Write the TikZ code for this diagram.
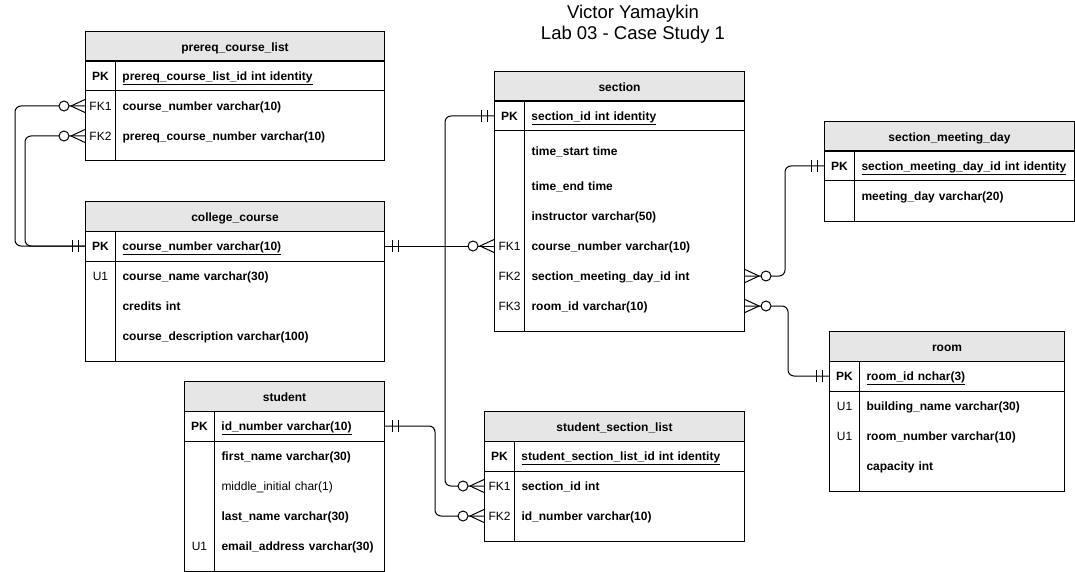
\documentclass[tikz,border=0pt]{standalone}
\usepackage{fontspec}
\setmainfont{Liberation Sans}
\usetikzlibrary{decorations.markings}

\definecolor{hdrgray}{HTML}{E6E6E6}
\newcommand{\fld}[2]{\makebox[30pt][c]{#1}\hspace{7pt}#2}

\tikzset{
  ehead/.style={draw, fill=hdrgray, anchor=north west, inner sep=0pt,
    minimum height=30pt, minimum width=#1pt, text height=9.5pt, text depth=0.3pt,
    font=\fontsize{12}{14}\selectfont\bfseries},
  erow/.style={anchor=west, inner sep=0pt, minimum height=30pt,
    text width=#1pt, text height=9.5pt, text depth=0.3pt, align=left,
    font=\fontsize{12}{14}\selectfont\bfseries},
  doctitle/.style={align=center, font=\fontsize{18.5}{20.5}\selectfont},
  conn/.style={rounded corners=6pt},
  one start/.style={postaction={decorate, decoration={markings,
    mark=at position 0 with {\draw[sharp corners] (7pt,-6pt) -- (7pt,6pt) (13pt,-6pt) -- (13pt,6pt);}}}},
  one end/.style={postaction={decorate, decoration={markings,
    mark=at position 1 with {\draw[sharp corners] (-7pt,-6pt) -- (-7pt,6pt) (-13pt,-6pt) -- (-13pt,6pt);}}}},
  many start/.style={postaction={decorate, decoration={markings,
    mark=at position 0 with {\draw[sharp corners] (0pt,-6.5pt) -- (14pt,0pt) -- (0pt,6.5pt);
      \draw[fill=white] (21pt,0pt) circle[radius=5pt];}}}},
  many end/.style={postaction={decorate, decoration={markings,
    mark=at position 1 with {\draw[sharp corners] (0pt,-6.5pt) -- (-14pt,0pt) -- (0pt,6.5pt);
      \draw[fill=white] (-21pt,0pt) circle[radius=5pt];}}}}
}

\begin{document}
\begin{tikzpicture}[x=1pt, y=-1pt, line width=1pt]
  \useasboundingbox (0,0) rectangle (1075,572);

  % Title
  \node[doctitle] (ttl) at (633,24) {Victor Yamaykin\\Lab 03 - Case Study 1};

  % prereq_course_list
  \node[ehead=299] (pcl) at (85,31) {prereq\_course\_list};
  \draw (85,61) rectangle (384,161) (85,91) -- (384,91) (115,61) -- (115,161);
  \node[erow=299] (pcl-pk) at (85,76) {\fld{PK}{\underline{prereq\_course\_list\_id int identity}}};
  \node[erow=299] (pcl-fk1) at (85,106) {\fld{\mdseries FK1}{course\_number varchar(10)}};
  \node[erow=299] (pcl-fk2) at (85,136) {\fld{\mdseries FK2}{prereq\_course\_number varchar(10)}};

  % college_course
  \node[ehead=299] (cc) at (85,201) {college\_course};
  \draw (85,231) rectangle (384,361) (85,261) -- (384,261) (115,231) -- (115,361);
  \node[erow=299] (cc-pk) at (85,246) {\fld{PK}{\underline{course\_number varchar(10)}}};
  \node[erow=299] (cc-u1) at (85,276) {\fld{\mdseries U1}{course\_name varchar(30)}};
  \node[erow=299] (cc-r2) at (85,306) {\fld{}{credits int}};
  \node[erow=299] (cc-r3) at (85,336) {\fld{}{course\_description varchar(100)}};

  % student
  \node[ehead=200] (stu) at (184,381) {student};
  \draw (184,411) rectangle (384,571) (184,441) -- (384,441) (214,411) -- (214,571);
  \node[erow=200] (stu-pk) at (184,426) {\fld{PK}{\underline{id\_number varchar(10)}}};
  \node[erow=200] (stu-r1) at (184,456) {\fld{}{first\_name varchar(30)}};
  \node[erow=200] (stu-r2) at (184,486) {\fld{}{\mdseries middle\_initial char(1)}};
  \node[erow=200] (stu-r3) at (184,516) {\fld{}{last\_name varchar(30)}};
  \node[erow=200] (stu-u1) at (184,546) {\fld{\mdseries U1}{email\_address varchar(30)}};

  % section
  \node[ehead=250] (sec) at (494,71) {section};
  \draw (494,101) rectangle (744,331) (494,131) -- (744,131) (524,101) -- (524,331);
  \node[erow=250] (sec-pk) at (494,116) {\fld{PK}{\underline{section\_id int identity}}};
  \node[erow=250] (sec-r1) at (494,151) {\fld{}{time\_start time}};
  \node[erow=250] (sec-r2) at (494,186) {\fld{}{time\_end time}};
  \node[erow=250] (sec-r3) at (494,216) {\fld{}{instructor varchar(50)}};
  \node[erow=250] (sec-fk1) at (494,246) {\fld{\mdseries FK1}{course\_number varchar(10)}};
  \node[erow=250] (sec-fk2) at (494,276) {\fld{\mdseries FK2}{section\_meeting\_day\_id int}};
  \node[erow=250] (sec-fk3) at (494,306) {\fld{\mdseries FK3}{room\_id varchar(10)}};

  % section_meeting_day
  \node[ehead=250] (smd) at (824,121) {section\_meeting\_day};
  \draw (824,151) rectangle (1074,221) (824,181) -- (1074,181) (854,151) -- (854,221);
  \node[erow=250] (smd-pk) at (824,166) {\fld{PK}{\underline{section\_meeting\_day\_id int identity}}};
  \node[erow=250] (smd-r1) at (824,196) {\fld{}{meeting\_day varchar(20)}};

  % room
  \node[ehead=235] (room) at (829,331) {room};
  \draw (829,361) rectangle (1064,491) (829,391) -- (1064,391) (859,361) -- (859,491);
  \node[erow=235] (room-pk) at (829,376) {\fld{PK}{\underline{room\_id nchar(3)}}};
  \node[erow=235] (room-u1) at (829,406) {\fld{\mdseries U1}{building\_name varchar(30)}};
  \node[erow=235] (room-u2) at (829,436) {\fld{\mdseries U1}{room\_number varchar(10)}};
  \node[erow=235] (room-r3) at (829,466) {\fld{}{capacity int}};

  % student_section_list
  \node[ehead=260] (ssl) at (484,411) {student\_section\_list};
  \draw (484,441) rectangle (744,541) (484,471) -- (744,471) (514,441) -- (514,541);
  \node[erow=260] (ssl-pk) at (484,456) {\fld{PK}{\underline{student\_section\_list\_id int identity}}};
  \node[erow=260] (ssl-fk1) at (484,486) {\fld{\mdseries FK1}{section\_id int}};
  \node[erow=260] (ssl-fk2) at (484,516) {\fld{\mdseries FK2}{id\_number varchar(10)}};

  % Relationships
  \draw[conn, many start, one end] (pcl-fk1.west) -- ++(-70,0) |- (cc-pk.west);
  \draw[conn, many start, one end] (pcl-fk2.west) -- ++(-60,0) |- (cc-pk.west);
  \draw[one start, many end] (cc-pk.east) -- (sec-fk1.west);
  \draw[conn, one start, many end] (sec-pk.west) -- ++(-49,0) |- (ssl-fk1.west);
  \draw[conn, one start, many end] (stu-pk.east) -- ++(50,0) |- (ssl-fk2.west);
  \draw[conn, many start, one end] (sec-fk2.east) -- ++(40,0) |- (smd-pk.west);
  \draw[conn, many start, one end] (sec-fk3.east) -- ++(43,0) |- (room-pk.west);
\end{tikzpicture}
\end{document}
